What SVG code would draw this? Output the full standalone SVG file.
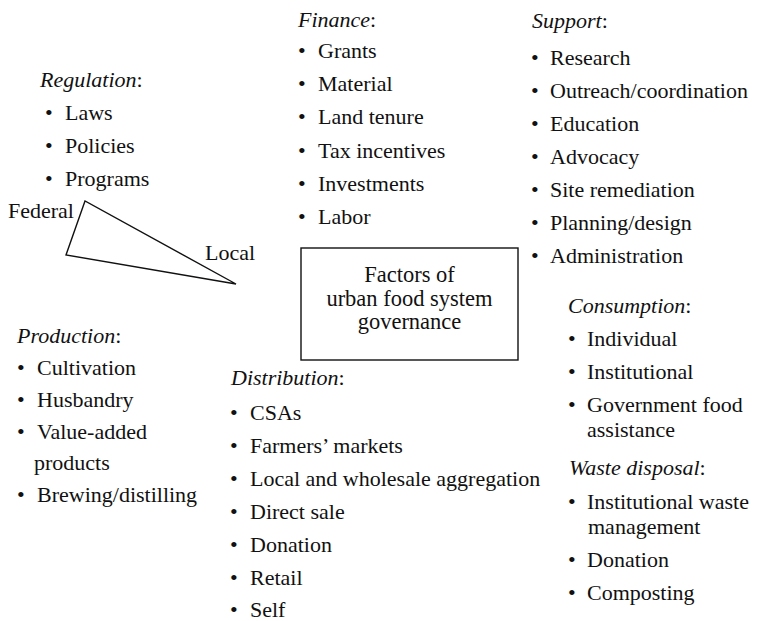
<svg xmlns="http://www.w3.org/2000/svg" width="759" height="621" viewBox="0 0 759 621">
<style>
text{font-family:"Liberation Serif","Times New Roman",serif;font-size:22px;fill:#111}
.t{font-style:italic}
.c{text-anchor:middle;font-size:22.5px}
.ln{fill:none;stroke:#111;stroke-width:1.4}
</style>
<rect width="759" height="621" fill="#fff"/>
<g id="regulation">
<text class="t" x="40" y="87">Regulation<tspan font-style="normal">:</tspan></text>
<text x="45" y="120">•</text><text x="65" y="120">Laws</text>
<text x="45" y="153">•</text><text x="65" y="153">Policies</text>
<text x="45" y="186">•</text><text x="65" y="186">Programs</text>
</g>
<g id="scale">
<text x="8" y="218">Federal</text>
<text x="205" y="260">Local</text>
</g>
<g id="connectors">
<polygon class="ln" points="85,201 66,255 236,284"/>
</g>
<g id="finance">
<text class="t" x="298" y="27">Finance<tspan font-style="normal">:</tspan></text>
<text x="298" y="58">•</text><text x="318" y="58">Grants</text>
<text x="298" y="91">•</text><text x="318" y="91">Material</text>
<text x="298" y="124">•</text><text x="318" y="124">Land tenure</text>
<text x="298" y="158">•</text><text x="318" y="158">Tax incentives</text>
<text x="298" y="191">•</text><text x="318" y="191">Investments</text>
<text x="298" y="224">•</text><text x="318" y="224">Labor</text>
</g>
<g id="support">
<text class="t" x="532" y="28">Support<tspan font-style="normal">:</tspan></text>
<text x="531" y="65">•</text><text x="550" y="65">Research</text>
<text x="531" y="98">•</text><text x="550" y="98">Outreach/coordination</text>
<text x="531" y="131">•</text><text x="550" y="131">Education</text>
<text x="531" y="164">•</text><text x="550" y="164">Advocacy</text>
<text x="531" y="197">•</text><text x="550" y="197">Site remediation</text>
<text x="531" y="230">•</text><text x="550" y="230">Planning/design</text>
<text x="531" y="263">•</text><text x="550" y="263">Administration</text>
</g>
<g id="center">
<rect class="ln" x="301" y="248" width="217" height="112"/>
<text class="c" x="409.5" y="282">Factors of</text>
<text class="c" x="409.5" y="306">urban food system</text>
<text class="c" x="409.5" y="329">governance</text>
</g>
<g id="production">
<text class="t" x="17" y="343">Production<tspan font-style="normal">:</tspan></text>
<text x="17" y="375">•</text><text x="37" y="375">Cultivation</text>
<text x="17" y="407">•</text><text x="37" y="407">Husbandry</text>
<text x="17" y="439">•</text><text x="37" y="439">Value-added</text>
<text x="34" y="470">products</text>
<text x="17" y="502">•</text><text x="37" y="502">Brewing/distilling</text>
</g>
<g id="distribution">
<text class="t" x="231" y="385">Distribution<tspan font-style="normal">:</tspan></text>
<text x="230" y="420">•</text><text x="250" y="420">CSAs</text>
<text x="230" y="453">•</text><text x="250" y="453">Farmers’ markets</text>
<text x="230" y="486">•</text><text x="250" y="486">Local and wholesale aggregation</text>
<text x="230" y="519">•</text><text x="250" y="519">Direct sale</text>
<text x="230" y="552">•</text><text x="250" y="552">Donation</text>
<text x="230" y="585">•</text><text x="250" y="585">Retail</text>
<text x="230" y="617">•</text><text x="250" y="617">Self</text>
</g>
<g id="consumption">
<text class="t" x="568" y="313">Consumption<tspan font-style="normal">:</tspan></text>
<text x="568" y="346">•</text><text x="587" y="346">Individual</text>
<text x="568" y="379">•</text><text x="587" y="379">Institutional</text>
<text x="568" y="412">•</text><text x="587" y="412">Government food</text>
<text x="587" y="437">assistance</text>
</g>
<g id="waste">
<text class="t" x="569" y="475">Waste disposal<tspan font-style="normal">:</tspan></text>
<text x="568" y="509">•</text><text x="587" y="509">Institutional waste</text>
<text x="588" y="534">management</text>
<text x="568" y="567">•</text><text x="587" y="567">Donation</text>
<text x="568" y="600">•</text><text x="587" y="600">Composting</text>
</g>
</svg>
